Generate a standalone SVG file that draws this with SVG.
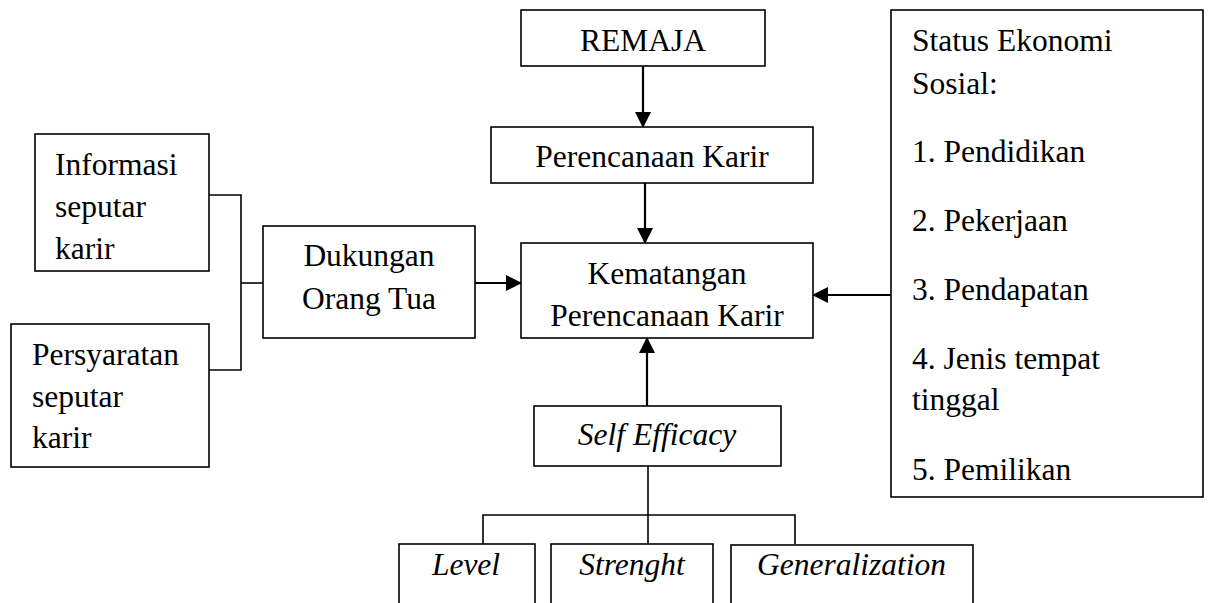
<svg xmlns="http://www.w3.org/2000/svg" width="1208" height="603" viewBox="0 0 1208 603">
  <style>
    .box { fill: #fff; stroke: #000; stroke-width: 1.6; }
    .t { font-family: 'Liberation Serif', 'Times New Roman', Times, 'DejaVu Serif', serif; font-size: 31.5px; fill: #000; }
    .c { text-anchor: middle; }
    .i { font-style: italic; }
    .ln { fill: none; stroke: #000; stroke-width: 1.6; }
    .ar { fill: none; stroke: #000; stroke-width: 2.2; marker-end: url(#ah); }
  </style>
  <defs>
    <marker id="ah" markerUnits="userSpaceOnUse" markerWidth="16" markerHeight="16" refX="15" refY="8" orient="auto">
      <path d="M0,0 L16,8 L0,16 Z" fill="#000"/>
    </marker>
  </defs>
  <rect width="1208" height="603" fill="#fff"/>

  <g id="connectors">
    <line class="ar" x1="643" y1="66" x2="643" y2="127"/>
    <line class="ar" x1="645" y1="183" x2="645" y2="243"/>
    <line class="ar" x1="475" y1="283" x2="521" y2="283"/>
    <line class="ar" x1="891" y1="295" x2="813" y2="295"/>
    <line class="ar" x1="647" y1="406" x2="647" y2="338"/>
    <polyline class="ln" points="209,195 241,195 241,370 209,370"/>
    <line class="ln" x1="241" y1="283" x2="263" y2="283"/>
    <line class="ln" x1="648" y1="466" x2="648" y2="544"/>
    <polyline class="ln" points="483,544 483,515 795,515 795,544"/>
  </g>

  <g id="remaja">
    <rect class="box" x="521" y="10" width="244" height="56"/>
    <text class="t c" x="643" y="51">REMAJA</text>
  </g>

  <g id="perencanaan">
    <rect class="box" x="491" y="127" width="322" height="56"/>
    <text class="t c" x="652" y="167">Perencanaan Karir</text>
  </g>

  <g id="kematangan">
    <rect class="box" x="521" y="243" width="292" height="95"/>
    <text class="t c" x="667" y="284">Kematangan</text>
    <text class="t c" x="667" y="326">Perencanaan Karir</text>
  </g>

  <g id="informasi">
    <rect class="box" x="35" y="134" width="174" height="137"/>
    <text class="t" x="55" y="175">Informasi</text>
    <text class="t" x="55" y="217">seputar</text>
    <text class="t" x="55" y="259">karir</text>
  </g>

  <g id="persyaratan">
    <rect class="box" x="11" y="324" width="198" height="143"/>
    <text class="t" x="32" y="365">Persyaratan</text>
    <text class="t" x="32" y="407">seputar</text>
    <text class="t" x="32" y="448">karir</text>
  </g>

  <g id="dukungan">
    <rect class="box" x="263" y="226" width="212" height="112"/>
    <text class="t c" x="369" y="266">Dukungan</text>
    <text class="t c" x="369" y="309">Orang Tua</text>
  </g>

  <g id="status">
    <rect class="box" x="891" y="10" width="312" height="487"/>
    <text class="t" x="912" y="51">Status Ekonomi</text>
    <text class="t" x="912" y="94">Sosial:</text>
    <text class="t" x="912" y="162">1. Pendidikan</text>
    <text class="t" x="912" y="231">2. Pekerjaan</text>
    <text class="t" x="912" y="300">3. Pendapatan</text>
    <text class="t" x="912" y="369">4. Jenis tempat</text>
    <text class="t" x="912" y="410">tinggal</text>
    <text class="t" x="912" y="480">5. Pemilikan</text>
  </g>

  <g id="self-efficacy">
    <rect class="box" x="534" y="406" width="247" height="60"/>
    <text class="t c i" x="657" y="445">Self Efficacy</text>
  </g>

  <g id="level">
    <rect class="box" x="399" y="544" width="136" height="80"/>
    <text class="t c i" x="466" y="575">Level</text>
  </g>

  <g id="strenght">
    <rect class="box" x="551" y="544" width="162" height="80"/>
    <text class="t c i" x="632" y="575">Strenght</text>
  </g>

  <g id="generalization">
    <rect class="box" x="731" y="545" width="242" height="80"/>
    <text class="t i" x="757" y="575">Generalization</text>
  </g>
</svg>
